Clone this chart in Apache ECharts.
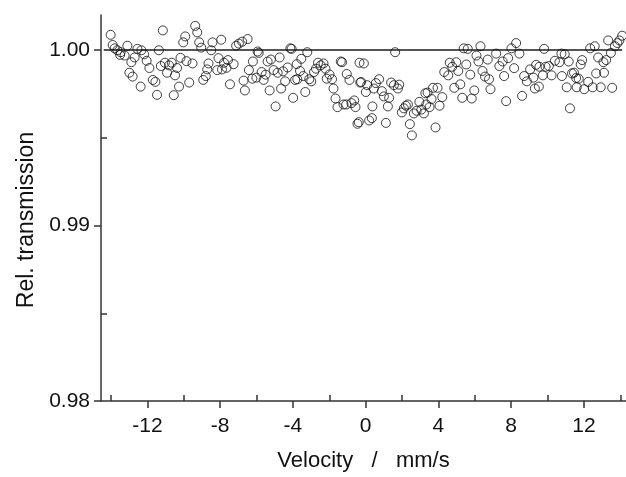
<!DOCTYPE html>
<html><head><meta charset="utf-8">
<script src="https://cdn.jsdelivr.net/npm/echarts@6/dist/echarts.min.js"></script>
<style>html,body{margin:0;background:#fff}#c{width:626px;height:477px}</style>
</head><body><div id="c"></div><script>
const velocity = [
-14.02,-13.91,-13.80,-13.65,-13.50,-13.47,-13.25,-13.10,-12.99,-12.88,-12.81,-12.70,-12.55,-12.37,-12.33,-12.18,-12.04,-11.89,-11.70,-11.56,-11.47,-11.37,-11.26,-11.15,-11.04,
-10.92,-10.81,-10.66,-10.55,-10.48,-10.37,-10.26,-10.18,-10.03,-9.92,-9.85,-9.70,-9.52,-9.37,-9.26,-9.15,-9.04,-8.93,-8.79,-8.71,-8.64,-8.49,-8.42,-8.16,-8.09,-7.94,-7.90,-7.79,-7.65,-7.57,-7.46,
-7.26,-7.12,-6.97,-6.79,-6.71,-6.64,-6.49,-6.42,-6.23,-6.20,-6.01,-5.94,-5.88,-5.72,-5.61,-5.50,-5.39,-5.28,-5.21,-5.06,-4.95,-4.84,-4.73,-4.65,-4.54,-4.43,-4.29,-4.14,-4.07,-3.99,-3.88,
-3.79,-3.76,-3.61,-3.54,-3.43,-3.32,-3.21,-3.10,-2.99,-2.84,-2.73,-2.62,-2.47,-2.32,-2.21,-2.14,-1.99,-1.85,-1.77,-1.66,-1.55,-1.37,-1.30,-1.22,-1.07,-1.04,-0.89,-0.78,-0.63,-0.56,-0.45,-0.38,-0.34,-0.30,
-0.25,-0.10,0.01,0.08,0.19,0.34,0.37,0.45,0.56,0.74,0.89,1.00,1.11,1.22,1.29,1.40,1.55,1.62,1.77,1.84,1.99,2.10,2.21,2.32,2.43,2.54,2.65,2.80,2.95,3.06,3.20,3.28,
3.33,3.40,3.51,3.62,3.70,3.84,3.95,4.06,4.21,4.32,4.54,4.62,4.76,4.87,4.98,5.09,5.20,5.31,5.39,5.53,5.61,5.75,5.83,5.97,6.09,6.20,6.31,6.42,6.56,6.71,6.78,6.86,
7.17,7.35,7.53,7.61,7.72,7.83,8.01,8.16,8.27,8.45,8.60,8.71,8.86,9.04,9.22,9.30,9.37,9.52,9.55,9.74,9.81,9.89,10.07,10.22,10.40,
10.65,10.76,10.79,10.94,11.05,11.16,11.23,11.34,11.45,11.57,11.60,11.71,11.82,11.90,12.01,12.23,12.34,12.48,12.59,12.67,12.78,12.92,13.07,13.10,13.22,13.33,13.48,13.55,13.70,13.84,13.95,14.10
];
const transmission = [
1.00087,1.00029,1.00010,0.99999,0.99973,0.99988,0.99969,1.00025,0.99871,0.99931,0.99849,0.99958,1.00007,0.99792,0.99999,0.99976,0.99939,0.99898,0.99830,0.99819,0.99745,0.99999,0.99909,1.00112,0.99928,
0.99871,0.99913,0.99928,0.99743,0.99856,0.99898,0.99792,0.99956,1.00044,1.00078,0.99937,0.99815,0.99924,1.00138,1.00101,1.00044,1.00014,0.99830,0.99852,0.99890,0.99924,0.99999,1.00044,0.99886,0.99954,1.00059,0.99890,0.99928,0.99899,0.99943,0.99805,
0.99920,1.00025,1.00037,1.00048,0.99826,0.99770,1.00063,0.99886,0.99837,0.99935,0.99843,0.99992,0.99984,0.99875,0.99830,0.99860,0.99935,0.99770,0.99946,0.99886,0.99679,0.99871,0.99958,0.99781,0.99879,0.99822,0.99901,1.00010,1.00007,0.99728,0.99830,
0.99920,0.99834,0.99881,0.99950,0.99852,0.99761,0.99988,0.99834,0.99822,0.99875,0.99894,0.99928,0.99913,0.99924,0.99894,0.99837,0.99861,0.99834,0.99781,0.99724,0.99675,0.99935,0.99931,0.99690,0.99690,0.99864,0.99830,0.99698,0.99713,0.99675,0.99580,0.99589,0.99928,0.99815,
0.99818,0.99924,0.99761,0.99800,0.99599,0.99612,0.99679,0.99781,0.99812,0.99834,0.99766,0.99736,0.99585,0.99679,0.99728,0.99815,0.99800,0.99988,0.99781,0.99803,0.99645,0.99668,0.99683,0.99690,0.99578,0.99514,0.99639,0.99654,0.99705,0.99661,0.99639,0.99754,
0.99690,0.99758,0.99675,0.99721,0.99785,0.99559,0.99785,0.99683,0.99732,0.99875,0.99856,0.99928,0.99905,0.99785,0.99931,0.99881,0.99805,0.99728,1.00010,0.99918,1.00007,0.99860,0.99724,0.99770,0.99969,0.99935,1.00022,0.99881,0.99849,0.99946,0.99834,0.99777,
0.99980,0.99909,0.99935,0.99852,0.99709,0.99954,1.00010,0.99897,1.00040,0.99980,0.99739,0.99852,0.99822,0.99890,0.99843,0.99781,0.99916,0.99792,0.99905,0.99856,1.00007,0.99905,0.99909,0.99856,0.99939,
0.99931,0.99980,0.99852,0.99976,0.99788,0.99935,0.99668,0.99867,0.99871,0.99841,0.99788,0.99837,0.99918,0.99943,0.99777,0.99819,1.00010,0.99788,1.00022,0.99867,0.99958,0.99788,0.99931,0.99871,0.99943,1.00055,0.99984,0.99785,1.00022,1.00040,1.00055,1.00082
];
const fitLineX = [-14.4, 14.1];
const fitLineY = [1.0, 1.0];
const xMajorTicks = [-12, -8, -4, 0, 4, 8, 12];
const xMinorTicks = [-14, -10, -6, -2, 2, 6, 10, 14];
const yMajorTicks = [0.98, 0.99, 1.00];
const yMinorTicks = [0.985, 0.995];

const FONT = 'Liberation Sans, Arial, sans-serif';
const AX = '#333';
const X_MIN = -14.55, X_MAX = 14.31, Y_MIN = 0.98, Y_MAX = 1.002;

const chart = echarts.init(document.getElementById('c'), null, {renderer: 'canvas'});
chart.setOption({
  animation: false,
  backgroundColor: '#fff',
  grid: {left: 101, right: 0, top: 15, bottom: 72},
  xAxis: [{
    type: 'value', min: X_MIN, max: X_MAX, position: 'bottom',
    axisLine: {show: true, onZero: false, lineStyle: {color: AX, width: 1.5}},
    axisTick: {show: true, customValues: xMajorTicks, length: 7, lineStyle: {color: AX, width: 1.5}},
    axisLabel: {customValues: xMajorTicks, margin: 15, fontSize: 21, color: '#111', fontFamily: FONT},
    splitLine: {show: false},
    name: 'Velocity   /   mm/s', nameLocation: 'middle', nameGap: 49,
    nameTextStyle: {fontSize: 22, color: '#111', fontFamily: FONT}
  }, {
    type: 'value', min: X_MIN, max: X_MAX, position: 'bottom',
    axisLine: {show: false, onZero: false},
    axisTick: {show: true, inside: true, customValues: xMinorTicks, length: 6, lineStyle: {color: AX, width: 1.5}},
    axisLabel: {show: false}, splitLine: {show: false}
  }],
  yAxis: [{
    type: 'value', min: Y_MIN, max: Y_MAX, position: 'left',
    axisLine: {show: true, onZero: false, lineStyle: {color: AX, width: 1.5}},
    axisTick: {show: true, customValues: yMajorTicks, length: 7, lineStyle: {color: AX, width: 1.5}},
    axisLabel: {customValues: yMajorTicks, margin: 11, fontSize: 21, color: '#111', fontFamily: FONT,
      formatter: v => Number(v).toFixed(2)},
    splitLine: {show: false},
    name: 'Rel. transmission', nameLocation: 'middle', nameGap: 62,
    nameTextStyle: {fontSize: 23, color: '#111', fontFamily: FONT, padding: [0, 24, 0, 0]}
  }, {
    type: 'value', min: Y_MIN, max: Y_MAX, position: 'left',
    axisLine: {show: false, onZero: false},
    axisTick: {show: true, inside: true, customValues: yMinorTicks, length: 6, lineStyle: {color: AX, width: 1.5}},
    axisLabel: {show: false}, splitLine: {show: false}
  }],
  series: [{
    type: 'line', xAxisIndex: 0, yAxisIndex: 0,
    data: fitLineX.map((x, i) => [x, fitLineY[i]]),
    showSymbol: false, lineStyle: {color: '#555', width: 2}, z: 1, silent: true
  }, {
    type: 'scatter', xAxisIndex: 0, yAxisIndex: 0,
    data: velocity.map((v, i) => [v, transmission[i]]),
    symbol: 'circle', symbolSize: 9,
    itemStyle: {color: 'rgba(0,0,0,0)', borderColor: '#111', borderWidth: 1},
    z: 2, silent: true
  }]
});
</script></body></html>
